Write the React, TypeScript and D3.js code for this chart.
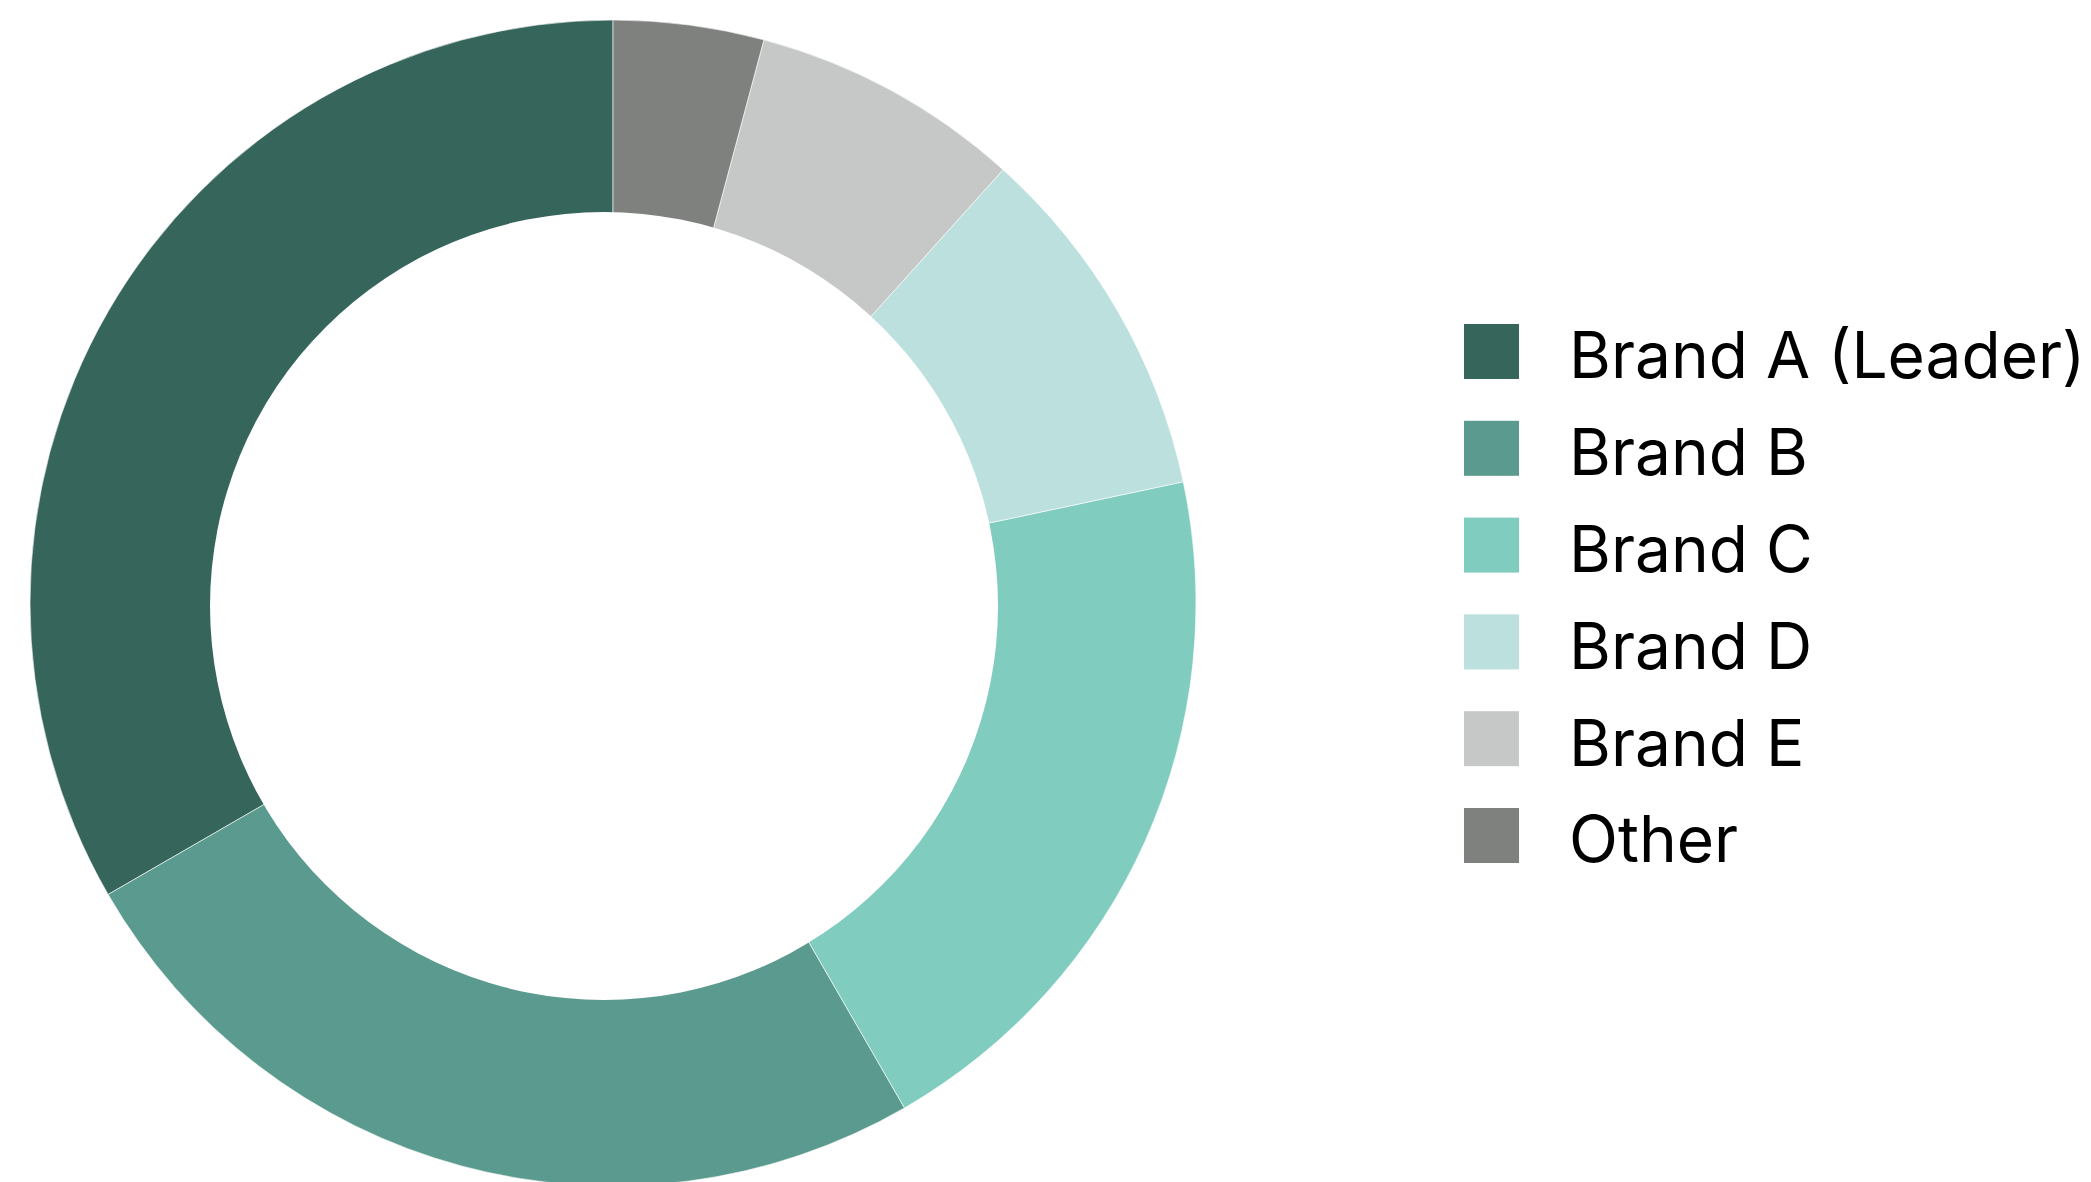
import React from "react";
import * as d3 from "d3";

const categories = ["Brand A (Leader)", "Brand B", "Brand C", "Brand D", "Brand E", "Other"];
const values = [40, 30, 24, 12, 9, 5];
const colors = ["#36655C", "#5B9A8E", "#80CCBE", "#BBE0DD", "#C6C8C7", "#7F817F"];

const W = 2091;
const H = 1182;
const cx = 613;
const cy = 603;
const outerR = 583;
// hole drawn as a white disc, slightly offset as in the reference
const holeCx = 604;
const holeCy = 606;
const holeR = 394;

export default function App() {
  const pie = d3
    .pie<number>()
    .sort(null)
    .value((d) => d)
    .startAngle(0)
    .endAngle(-2 * Math.PI);
  const arcs = pie(values);
  const arcGen = d3.arc<d3.PieArcDatum<number>>().innerRadius(360).outerRadius(outerR);

  const legendX = 1464;
  const legendY = 324;
  const box = 55;
  const step = 96.8;

  return (
    <svg
      width={W}
      height={H}
      style={{ position: "absolute", left: 0, top: 0, background: "#fff" }}
      fontFamily="Inter, 'Noto Sans', sans-serif"
    >
      <g transform={`translate(${cx},${cy})`}>
        {arcs.map((a, i) => (
          <path key={i} d={arcGen(a) || ""} fill={colors[i]} stroke="#ffffff" strokeWidth={0.6} />
        ))}
      </g>
      <circle cx={holeCx} cy={holeCy} r={holeR} fill="#ffffff" />
      <g>
        {categories.map((c, i) => (
          <g key={c} transform={`translate(${legendX},${legendY + i * step})`}>
            <rect width={box} height={box} fill={colors[i]} />
            <text x={105} y={54.3} fontSize={64} fill="#000">
              {c}
            </text>
          </g>
        ))}
      </g>
    </svg>
  );
}
